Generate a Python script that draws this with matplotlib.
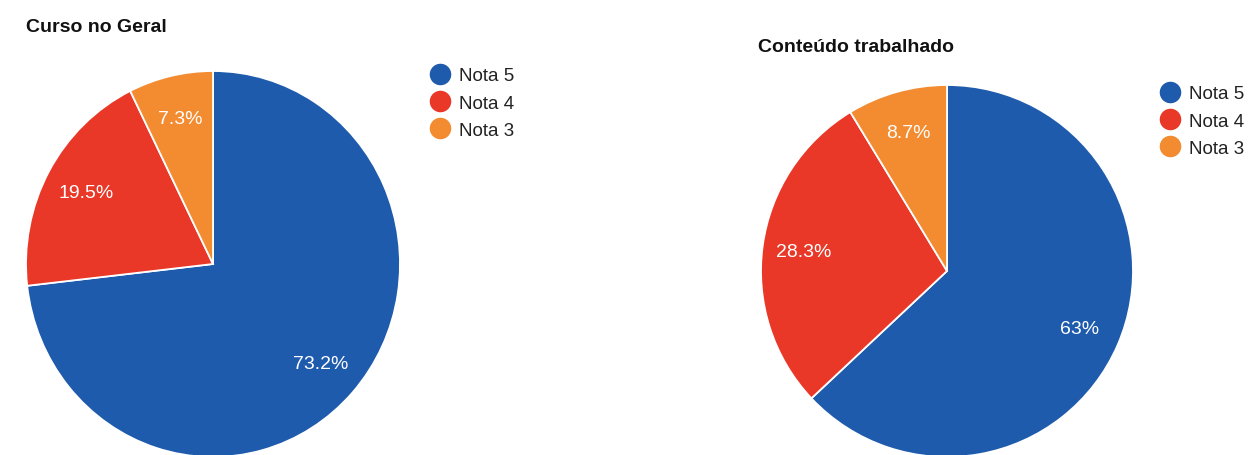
import matplotlib
matplotlib.use("Agg")
import matplotlib.pyplot as plt
from matplotlib.lines import Line2D

plt.rcParams['font.family'] = ['Liberation Sans', 'DejaVu Sans']

# Data
categories = ["Nota 5", "Nota 4", "Nota 3"]
curso_geral = [73.2, 19.5, 7.3]
conteudo = [63.0, 28.3, 8.7]
titles = ["Curso no Geral", "Conteúdo trabalhado"]
colors = ["#1f5bad", "#ea3828", "#f38b30"]

W, H = 1253, 456
fig = plt.figure(figsize=(W / 100, H / 100), dpi=100)
fig.patch.set_facecolor("white")


def px_rect(cx, cy, rx, ry):
    """Axes rectangle (figure fraction) for a pie centred at pixel (cx, cy) from top-left."""
    cy_b = H - cy
    return [(cx - rx) / W, (cy_b - ry) / H, 2 * rx / W, 2 * ry / H]


def fmt(p):
    return f"{round(p, 1):g}%"


def draw_pie(rect, values):
    ax = fig.add_axes(rect)
    ax.pie(
        values, colors=colors, startangle=90, counterclock=False,
        radius=1.0, autopct=fmt, pctdistance=0.775,
        wedgeprops=dict(edgecolor="white", linewidth=1.3),
        textprops=dict(color="white", fontsize=14),
    )
    ax.set_aspect("auto")
    ax.set_xlim(-1, 1)
    ax.set_ylim(-1, 1)
    ax.axis("off")
    return ax


ax1 = draw_pie(px_rect(213, 265, 187, 193), curso_geral)
ax2 = draw_pie(px_rect(947, 272, 186, 186), conteudo)

fig.text(26 / W, 1 - 28 / H, titles[0], fontsize=14, fontweight="bold",
         va="center", ha="left", color="#111111")
fig.text(758 / W, 1 - 47 / H, titles[1], fontsize=14, fontweight="bold",
         va="center", ha="left", color="#111111")

handles = [Line2D([], [], linestyle="none", marker="o", markersize=14.5,
                  markerfacecolor=c, markeredgecolor=c) for c in colors]

for ax, (lx, ly) in ((ax1, (431, 68)), (ax2, (1161, 86))):
    leg = ax.legend(handles, categories, loc="upper left",
                    bbox_to_anchor=(lx / W, 1 - ly / H),
                    bbox_transform=fig.transFigure,
                    frameon=False, fontsize=13.5, handlelength=1.0,
                    handletextpad=0.5, labelspacing=0.55,
                    borderpad=0, borderaxespad=0)
    for t in leg.get_texts():
        t.set_color("#222222")

fig.savefig("out.png", dpi=100, facecolor="white")
